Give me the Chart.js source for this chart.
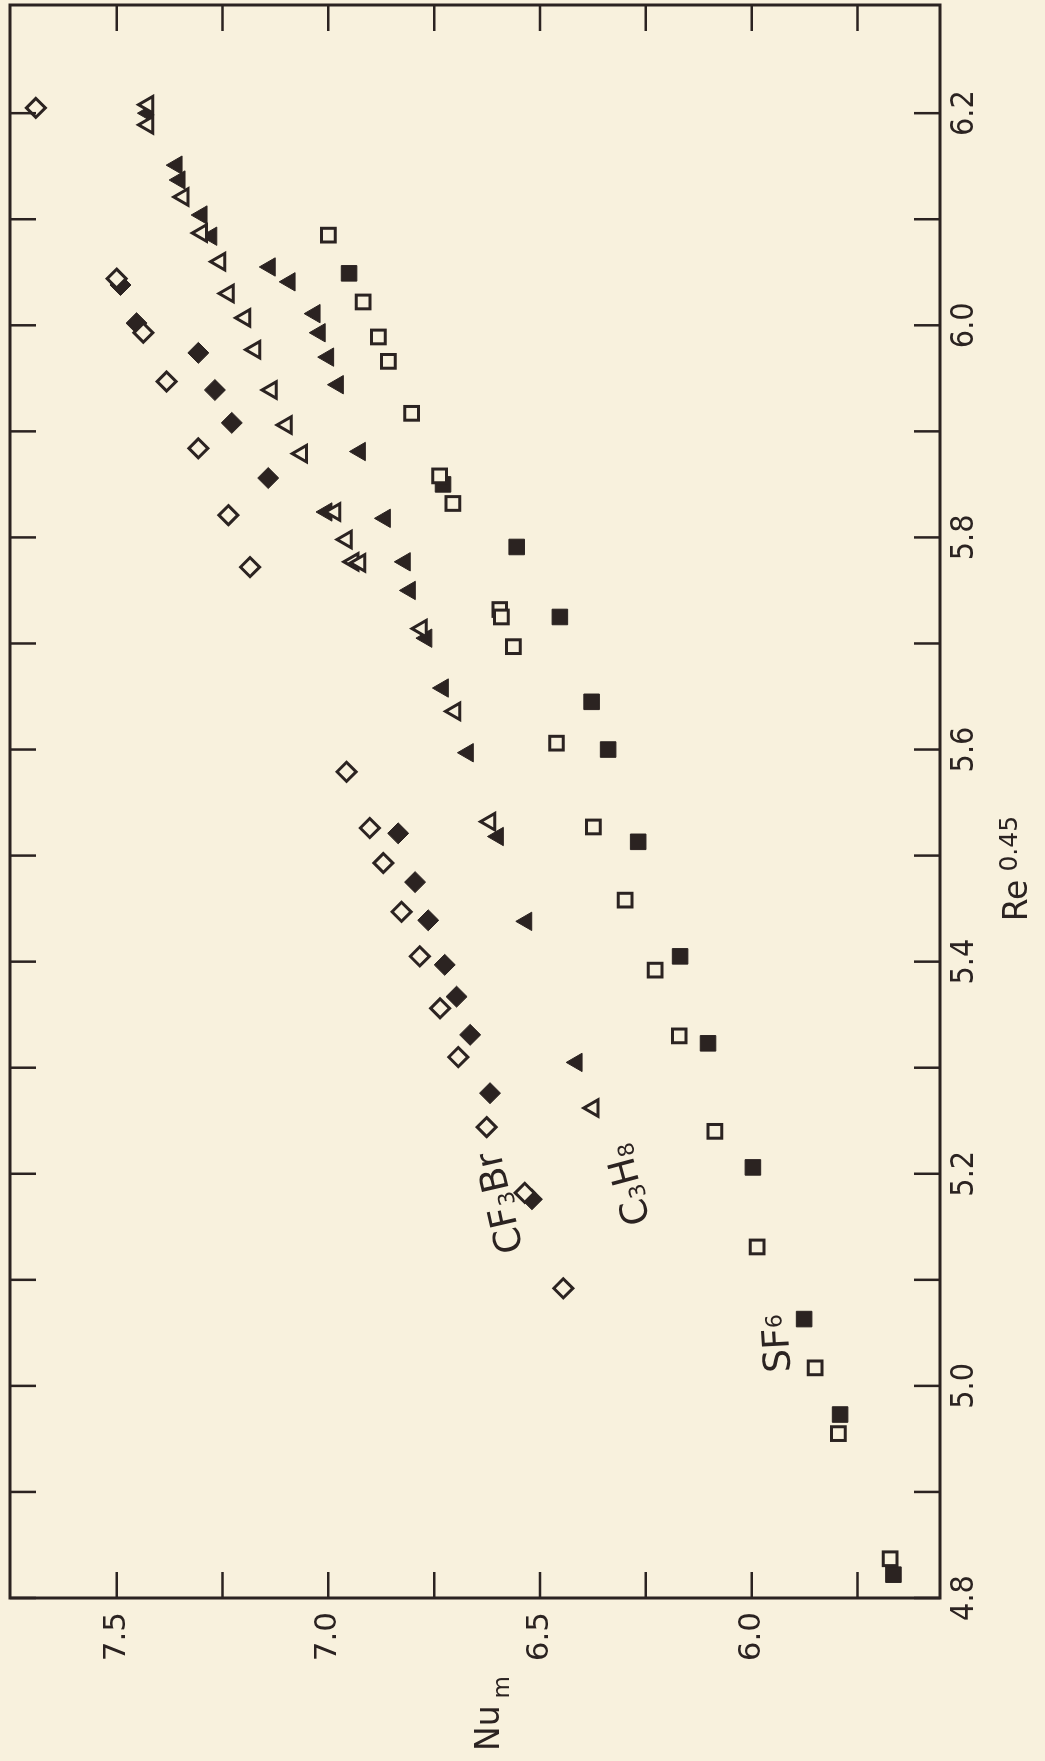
<!DOCTYPE html>
<html>
<head>
<meta charset="utf-8">
<script src="https://cdn.jsdelivr.net/npm/chart.js@4.4.0/dist/chart.umd.min.js"></script>
<style>
html,body{margin:0;padding:0;background:#f8f1dd;overflow:hidden;width:1045px;height:1761px;}
#wrap{position:absolute;left:0;top:0;width:1761px;height:1045px;transform-origin:0 0;transform:translateY(1761px) rotate(-90deg);}
canvas{display:block;}
</style>
</head>
<body>
<div id="wrap"><canvas id="c" width="1761" height="1045"></canvas></div>
<script>
// ---------- data (Re^0.45 , Nu_m) ----------
const reTicks = [4.8,4.9,5.0,5.1,5.2,5.3,5.4,5.5,5.6,5.7,5.8,5.9,6.0,6.1,6.2];
const reTickLabels = ['4.8','5.0','5.2','5.4','5.6','5.8','6.0','6.2'];
const nuTicks = [5.75,6.0,6.25,6.5,6.75,7.0,7.25,7.5];
const nuTickLabels = ['6.0','6.5','7.0','7.5'];

const cf3brOpenRe = [6.205,6.044,5.993,5.947,5.884,5.821,5.772,5.579,5.526,5.493,5.447,5.405,5.356,5.310,5.244,5.182,5.092];
const cf3brOpenNu = [7.691,7.500,7.437,7.382,7.307,7.236,7.185,6.957,6.902,6.870,6.827,6.784,6.736,6.693,6.626,6.536,6.445];

const cf3brFullRe = [6.038,6.002,5.974,5.939,5.908,5.856,5.521,5.475,5.439,5.397,5.367,5.331,5.276,5.176];
const cf3brFullNu = [7.491,7.453,7.307,7.268,7.228,7.142,6.835,6.795,6.764,6.725,6.697,6.665,6.618,6.519];

const c3h8OpenRe = [6.208,6.189,6.121,6.087,6.060,6.030,6.007,5.977,5.939,5.906,5.879,5.824,5.798,5.777,5.776,5.714,5.636,5.532,5.262];
const c3h8OpenNu = [7.426,7.426,7.343,7.299,7.256,7.236,7.197,7.173,7.134,7.099,7.063,6.984,6.957,6.941,6.925,6.780,6.701,6.618,6.374];

const c3h8FullRe = [6.200,6.151,6.137,6.104,6.084,6.055,6.041,6.011,5.993,5.970,5.944,5.881,5.824,5.818,5.777,5.750,5.705,5.658,5.597,5.518,5.438,5.305];
const c3h8FullNu = [7.426,7.358,7.351,7.299,7.276,7.138,7.091,7.032,7.020,7.000,6.977,6.925,7.004,6.866,6.819,6.807,6.768,6.729,6.670,6.599,6.532,6.413];

const sf6OpenRe = [6.085,6.022,5.989,5.966,5.917,5.858,5.832,5.732,5.725,5.697,5.606,5.527,5.458,5.392,5.330,5.240,5.131,5.017,4.955,4.837];
const sf6OpenNu = [7.000,6.918,6.882,6.858,6.803,6.737,6.706,6.595,6.591,6.563,6.461,6.374,6.299,6.228,6.171,6.087,5.987,5.850,5.795,5.673];

const sf6FullRe = [6.049,5.850,5.791,5.725,5.645,5.600,5.513,5.405,5.323,5.206,5.063,4.973,4.822];
const sf6FullNu = [6.951,6.729,6.555,6.453,6.378,6.339,6.268,6.169,6.103,5.997,5.876,5.791,5.665];

const seriesNames = ['CF3Br','C3H8','SF6'];

// ---------- styling ----------
const INK = '#2b2321';
const BG = '#f8f1dd';
const TICK_LEN = 26;

function pts(xs, ys){ return xs.map((v,i)=>({x:v, y:ys[i]})); }

function ds(label, data, style, open, r){
  return {
    label, data,
    pointStyle: style,
    pointRadius: r,
    pointHoverRadius: r,
    pointBackgroundColor: open ? BG : INK,
    pointBorderColor: INK,
    pointBorderWidth: open ? 3 : 1,
    showLine: false
  };
}

// chemical labels: parts with subscript flags
const chemLabels = [
  {parts:[['CF',0],['3',1],['Br',0]], re:5.128, nu:6.540, angle:-13, subDy:3},
  {parts:[['C',0],['3',1],['H',0],['8',1]], re:5.155, nu:6.240, angle:-15, subDy:3},
  {parts:[['SF',0],['6',1]], re:5.013, nu:5.909, angle:-3, subDy:-6}
];

function drawChem(ctx, parts, x, y, angle, size, subDy){
  ctx.save();
  ctx.translate(x, y);
  ctx.rotate(angle*Math.PI/180);
  ctx.textBaseline = 'alphabetic';
  ctx.textAlign = 'left';
  let cx = 0;
  parts.forEach(([t, sub])=>{
    const fs = sub ? Math.round(size*0.6) : size;
    ctx.font = fs + "px 'DejaVu Sans'";
    ctx.fillText(t, cx, sub ? subDy : 0);
    cx += ctx.measureText(t).width + (sub ? 1 : 0);
  });
  ctx.restore();
}

const framePlugin = {
  id: 'frame',
  afterDraw(chart){
    const {ctx, chartArea:a, scales:{x, y}} = chart;
    ctx.save();
    ctx.strokeStyle = INK;
    ctx.fillStyle = INK;
    ctx.lineWidth = 3;
    ctx.strokeRect(a.left, a.top, a.right - a.left, a.bottom - a.top);
    ctx.lineWidth = 2.5;
    ctx.beginPath();
    reTicks.forEach(v=>{
      const px = x.getPixelForValue(v);
      ctx.moveTo(px, a.bottom); ctx.lineTo(px, a.bottom - TICK_LEN);
      ctx.moveTo(px, a.top); ctx.lineTo(px, a.top + TICK_LEN);
    });
    nuTicks.forEach(v=>{
      const py = y.getPixelForValue(v);
      ctx.moveTo(a.left, py); ctx.lineTo(a.left + TICK_LEN, py);
      ctx.moveTo(a.right, py); ctx.lineTo(a.right - TICK_LEN, py);
    });
    ctx.stroke();

    // y-axis title: Nu with subscript m (horizontal)
    ctx.textBaseline = 'alphabetic';
    ctx.textAlign = 'left';
    ctx.font = "33px 'DejaVu Sans'";
    const nx = 10, ny = a.top + 489;
    ctx.fillText('Nu', nx, ny);
    const w = ctx.measureText('Nu').width;
    ctx.font = "23px 'DejaVu Sans'";
    ctx.fillText('m', nx + w + 7, ny + 10);

    // x-axis title: Re with superscript 0.45
    ctx.font = "33px 'DejaVu Sans'";
    const rx = x.getPixelForValue(5.438), ry = a.bottom + 87;
    ctx.fillText('Re', rx, ry);
    const rw = ctx.measureText('Re').width;
    ctx.font = "25px 'DejaVu Sans'";
    ctx.fillText('0.45', rx + rw + 8, ry - 10);

    // series labels
    chemLabels.forEach((l)=>{
      drawChem(ctx, l.parts, x.getPixelForValue(l.re), y.getPixelForValue(l.nu), l.angle, 37, l.subDy);
    });
    ctx.restore();
  }
};

function hasLabel(list, v){ return list.some(s => Math.abs(parseFloat(s) - v) < 1e-6); }
function zeroPad(s){ s.paddingTop = 0; s.paddingBottom = 0; s.paddingLeft = 0; s.paddingRight = 0; }

new Chart(document.getElementById('c'), {
  type: 'scatter',
  data: {
    datasets: [
      ds(seriesNames[0]+' open', pts(cf3brOpenRe, cf3brOpenNu), 'rectRot', true, 9.5),
      ds(seriesNames[1]+' open', pts(c3h8OpenRe, c3h8OpenNu), 'triangle', true, 9.5),
      ds(seriesNames[2]+' open', pts(sf6OpenRe, sf6OpenNu), 'rect', true, 9.7),
      ds(seriesNames[0]+' filled', pts(cf3brFullRe, cf3brFullNu), 'rectRot', false, 10.5),
      ds(seriesNames[1]+' filled', pts(c3h8FullRe, c3h8FullNu), 'triangle', false, 10.6),
      ds(seriesNames[2]+' filled', pts(sf6FullRe, sf6FullNu), 'rect', false, 11)
    ]
  },
  options: {
    responsive: false,
    animation: false,
    events: [],
    layout: { autoPadding: false, padding: { left: 0, right: 5, top: 10, bottom: 0 } },
    plugins: { legend: { display: false }, tooltip: { enabled: false }, title: { display: false } },
    scales: {
      x: {
        type: 'linear', min: 4.8, max: 6.302,
        afterBuildTicks: s => { s.ticks = reTicks.map(v => ({value: v})); },
        afterFit: s => { s.height = 105; zeroPad(s); },
        grid: { display: false, drawTicks: false },
        border: { display: false },
        ticks: {
          autoSkip: false, maxRotation: 0, minRotation: 0, padding: 5,
          color: INK,
          font: { family: "'Liberation Sans Narrow', 'DejaVu Sans Condensed', sans-serif", size: 32 },
          callback: v => hasLabel(reTickLabels, v) ? Number(v).toFixed(1) : ''
        }
      },
      y: {
        type: 'linear', min: 5.555, max: 7.752,
        afterBuildTicks: s => { s.ticks = nuTicks.map(v => ({value: v})); },
        afterFit: s => { s.width = 163; zeroPad(s); },
        grid: { display: false, drawTicks: false },
        border: { display: false },
        ticks: {
          autoSkip: false, padding: 14,
          color: INK,
          font: { family: "'DejaVu Sans', sans-serif", size: 31 },
          callback: v => hasLabel(nuTickLabels, v) ? Number(v).toFixed(1) : ''
        }
      }
    }
  },
  plugins: [framePlugin]
});
</script>
</body>
</html>
